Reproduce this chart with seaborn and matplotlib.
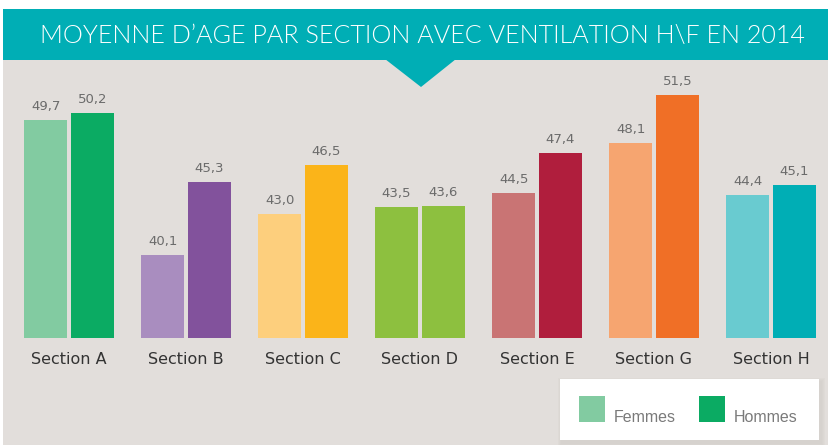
import matplotlib
matplotlib.use("Agg")
import matplotlib.pyplot as plt
from matplotlib.patches import Rectangle, Polygon
import seaborn as sns
import pandas as pd

sections = ["Section A", "Section B", "Section C", "Section D", "Section E", "Section G", "Section H"]
femmes = [49.7, 40.1, 43.0, 43.5, 44.5, 48.1, 44.4]
hommes = [50.2, 45.3, 46.5, 43.6, 47.4, 51.5, 45.1]
series = ["Femmes", "Hommes"]
title = "MOYENNE D\u2019AGE PAR SECTION AVEC VENTILATION H\\F EN 2014"

col_f = ["#82cba1", "#a98dbf", "#fdcf7d", "#8dc03f", "#c97474", "#f6a570", "#69cbd0"]
col_h = ["#0bab63", "#82529c", "#fbb419", "#8dc03f", "#b01e3d", "#f06f26", "#00aeb5"]

df = pd.DataFrame({
    "section": sections * 2,
    "age": femmes + hommes,
    "sexe": [series[0]] * len(sections) + [series[1]] * len(sections),
})

sns.set_theme(style="white")
plt.rcParams["font.family"] = ["DejaVu Sans"]

W, H = 829, 445
fig = plt.figure(figsize=(W / 100, H / 100), dpi=100)
fig.patch.set_facecolor("white")

# background / decoration layer in pixel coordinates
bg = fig.add_axes([0, 0, 1, 1], zorder=0)
bg.set_xlim(0, W)
bg.set_ylim(H, 0)
bg.axis("off")
bg.add_patch(Rectangle((3, 59), W - 3, H - 59, facecolor="#e2dedb", edgecolor="none"))
bg.add_patch(Rectangle((3, 9), W - 3, 50.5, facecolor="#00aeb5", edgecolor="none"))
bg.add_patch(Polygon([(385, 59), (456, 59), (421, 87)], closed=True, facecolor="#00aeb5", edgecolor="none"))
bg.text(422, 35.5, title, color="white", fontsize=18.1, fontweight=300,
        family=["Lato", "DejaVu Sans"], ha="center", va="center")

# main bar chart
px0, px1 = 10.5, 829.5
pyb, pyt = 338, 59
ax = fig.add_axes([px0 / W, (H - pyb) / H, (px1 - px0) / W, (pyb - pyt) / H], zorder=1)
ax.patch.set_alpha(0)
sns.barplot(data=df, x="section", y="age", hue="sexe", ax=ax, width=0.8, gap=0.085,
            palette=["#82cba1", "#0bab63"], legend=False, saturation=1)
for c, cols in zip(ax.containers, [col_f, col_h]):
    for bar, colr in zip(c, cols):
        bar.set_facecolor(colr)
        bar.set_edgecolor("none")
for c, vals in zip(ax.containers, [femmes, hommes]):
    ax.bar_label(c, labels=[f"{v:.1f}".replace(".", ",") for v in vals], padding=5,
                 color="#6b6b6b", fontsize=9.5)
ax.set_xlim(-0.5, 6.5)
ax.set_ylim(34.2, 54.07)
ax.set_xlabel("")
ax.set_ylabel("")
ax.set_yticks([])
ax.tick_params(axis="x", length=0, pad=10, labelsize=11.5, labelcolor="#333333")
for s in ax.spines.values():
    s.set_visible(False)

# legend box
ov = fig.add_axes([0, 0, 1, 1], zorder=2)
ov.set_xlim(0, W)
ov.set_ylim(H, 0)
ov.axis("off")
for i, a in enumerate([0.05, 0.04, 0.03, 0.02]):
    d = 4 - i
    ov.add_patch(Rectangle((560 - d + 2, 379 - d + 3), 259 + 2 * d, 61 + 2 * d,
                           facecolor="#9a928c", alpha=a, edgecolor="none"))
ov.add_patch(Rectangle((560, 379), 259, 61, facecolor="white", edgecolor="none"))
ov.add_patch(Rectangle((579, 396), 26, 26, facecolor="#82cba1", edgecolor="none"))
ov.add_patch(Rectangle((699, 396), 26, 26, facecolor="#0bab63", edgecolor="none"))
ov.text(614, 422, series[0], color="#7a7a7a", fontsize=11.5, family=["Liberation Sans"],
        ha="left", va="baseline")
ov.text(734, 422, series[1], color="#7a7a7a", fontsize=11.5, family=["Liberation Sans"],
        ha="left", va="baseline")

fig.savefig("out.png", dpi=100)
